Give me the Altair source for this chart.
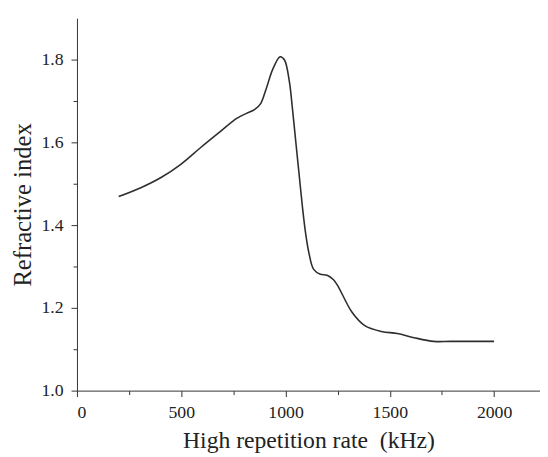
import altair as alt
import pandas as pd

rate = [200, 309, 403, 498, 592, 687, 766, 813, 851, 880, 907, 939, 974, 995, 1018, 1033, 1049, 1065, 1081, 1096, 1112, 1135, 1167, 1199, 1230, 1252, 1318, 1380, 1460, 1536, 1616, 1711, 1791, 2000]
index = [1.469, 1.491, 1.515, 1.547, 1.587, 1.626, 1.658, 1.670, 1.679, 1.693, 1.729, 1.777, 1.807, 1.799, 1.748, 1.682, 1.602, 1.523, 1.444, 1.381, 1.333, 1.293, 1.281, 1.279, 1.268, 1.252, 1.190, 1.157, 1.143, 1.138, 1.128, 1.119, 1.119, 1.119]

x_major = [0, 500, 1000, 1500, 2000]
x_minor = [250, 750, 1250, 1750]
y_major = [1.0, 1.2, 1.4, 1.6, 1.8]
y_minor = [1.1, 1.3, 1.5, 1.7]

df = pd.DataFrame({"rate": rate, "index": index})

FONT = "Liberation Serif"
INK = "#222222"
xs = alt.Scale(domain=[0, 2220], nice=False)
ys = alt.Scale(domain=[1.0, 1.9], nice=False)

line = alt.Chart(df).mark_line(color="#2e2e2e", strokeWidth=1.6, interpolate="catmull-rom").encode(
    x=alt.X("rate:Q", scale=xs, axis=alt.Axis(
        orient="bottom", values=x_major, title="High repetition rate \u00a0(kHz)", format="d",
        labelFont=FONT, titleFont=FONT, labelFontSize=18, titleFontSize=24,
        labelColor=INK, titleColor=INK, titleFontWeight="normal",
        domainColor="#333", tickColor="#333", tickSize=6, grid=False,
        labelPadding=7, titlePadding=8)),
    y=alt.Y("index:Q", scale=ys, axis=alt.Axis(
        orient="left", values=y_major, title="Refractive index", format=".1f",
        labelFont=FONT, titleFont=FONT, labelFontSize=18, titleFontSize=25,
        labelColor=INK, titleColor=INK, titleFontWeight="normal",
        domainColor="#333", tickColor="#333", tickSize=6, grid=False,
        labelPadding=8, titlePadding=6)),
)

minor = alt.Chart(pd.DataFrame({"rate": x_minor, "index": y_minor})).mark_point(opacity=0).encode(
    x=alt.X("rate:Q", scale=xs, axis=alt.Axis(orient="bottom", values=x_minor, labels=False, title=None,
        domain=False, tickColor="#333", tickSize=4, grid=False)),
    y=alt.Y("index:Q", scale=ys, axis=alt.Axis(orient="left", values=y_minor, labels=False, title=None,
        domain=False, tickColor="#333", tickSize=4, grid=False)),
)

chart = alt.layer(line, minor).resolve_axis(x="independent", y="independent").properties(
    width=470, height=378,
    padding={"left": 70, "top": 7, "right": 0, "bottom": 64},
    autosize=alt.AutoSizeParams(type="none"),
).configure_view(stroke=None)

chart.save("out.html", embed_options={"renderer": "svg", "actions": False})
